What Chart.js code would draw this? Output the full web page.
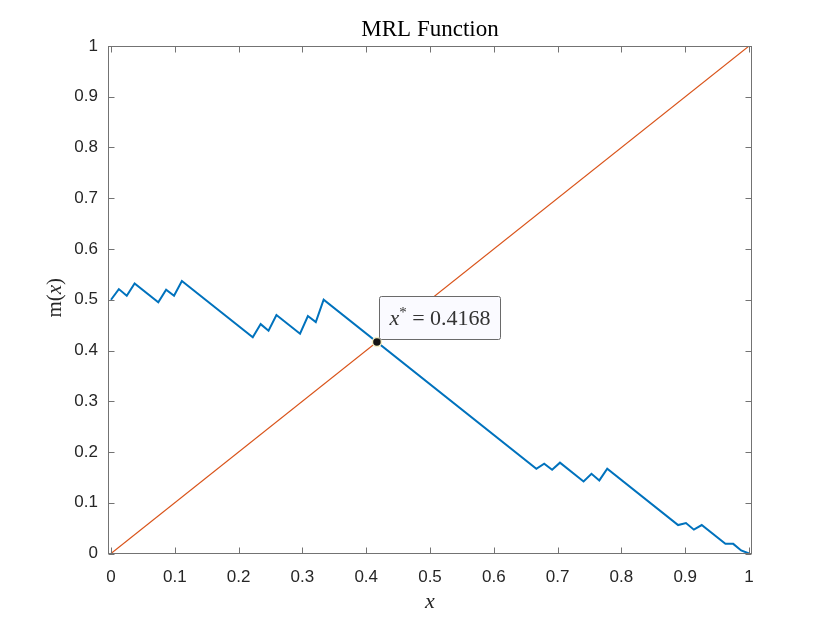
<!DOCTYPE html>
<html>
<head>
<meta charset="utf-8">
<title>MRL Function</title>
<script src="https://cdn.jsdelivr.net/npm/chart.js@4.4.1/dist/chart.umd.min.js"></script>
<style>
  html, body { margin: 0; padding: 0; background: #fff; }
  #wrap { width: 830px; height: 623px; }
</style>
</head>
<body>
<div id="wrap"><canvas id="mrl-chart" width="830" height="623"></canvas></div>
<script>
/* -------------  DATA  ------------- */

// blue curve m(x): corners of the sawtooth
const mrlX = [0, 0.0123, 0.0247, 0.0370, 0.0741, 0.0864, 0.0988, 0.1111,
  0.2222, 0.2346, 0.2469, 0.2593, 0.2963, 0.3086, 0.3210, 0.3333,
  0.6667, 0.6790, 0.6914, 0.7037, 0.7407, 0.7531, 0.7654, 0.7778,
  0.8889, 0.9012, 0.9136, 0.9259, 0.9630, 0.9753, 0.9877, 1];
const mrlY = [0.500, 0.521, 0.508, 0.532, 0.495, 0.520, 0.508, 0.537,
  0.426, 0.452, 0.439, 0.470, 0.433, 0.468, 0.456, 0.500,
  0.167, 0.177, 0.165, 0.179, 0.142, 0.157, 0.144, 0.167,
  0.056, 0.060, 0.047, 0.056, 0.019, 0.019, 0.006, 0];

// orange line y = x
const diagX = [0, 1];
const diagY = [0, 1];

// crossing point shown by the data tip
const crossX = 0.4168;
const crossY = 0.4168;
const crossLabel = '0.4168';

const xTickValues = [0, 0.1, 0.2, 0.3, 0.4, 0.5, 0.6, 0.7, 0.8, 0.9, 1];
const xTickLabels = ['0', '0.1', '0.2', '0.3', '0.4', '0.5', '0.6', '0.7', '0.8', '0.9', '1'];
const yTickValues = [0, 0.1, 0.2, 0.3, 0.4, 0.5, 0.6, 0.7, 0.8, 0.9, 1];
const yTickLabels = ['0', '0.1', '0.2', '0.3', '0.4', '0.5', '0.6', '0.7', '0.8', '0.9', '1'];

const titleText = 'MRL Function';

/* -------------  STYLE  ------------- */

const BLUE = '#0072BD';
const ORANGE = '#D95319';
const AXIS_COLOR = '#737373';
const TEXT_COLOR = '#262626';
const SERIF = '"Liberation Serif", "DejaVu Serif", serif';
const SANS = '"Liberation Sans", Arial, sans-serif';

function toPoints(xs, ys) {
  return xs.map((x, i) => ({ x: x, y: ys[i] }));
}

/**
 * Draws the box with inward ticks, the title, the axis labels and the data tip.
 */
const matlabFrame = {
  id: 'matlabFrame',
  afterDraw(chart) {
    const ctx = chart.ctx;
    const a = chart.chartArea;
    const xs = chart.scales.x;
    const ys = chart.scales.y;
    const L = Math.round(a.left) + 0.5;
    const R = Math.round(a.right) - 0.5;
    const T = Math.round(a.top) + 0.5;
    const B = Math.round(a.bottom) - 0.5;
    const tick = 6;

    ctx.save();
    ctx.strokeStyle = AXIS_COLOR;
    ctx.lineWidth = 1;
    ctx.strokeRect(L, T, R - L, B - T);
    ctx.beginPath();
    xs.ticks.forEach((t) => {
      const px = Math.round(xs.getPixelForValue(t.value)) + 0.5;
      ctx.moveTo(px, B); ctx.lineTo(px, B - tick);
      ctx.moveTo(px, T); ctx.lineTo(px, T + tick);
    });
    ys.ticks.forEach((t) => {
      const py = Math.round(ys.getPixelForValue(t.value)) + 0.5;
      ctx.moveTo(L, py); ctx.lineTo(L + tick, py);
      ctx.moveTo(R, py); ctx.lineTo(R - tick, py);
    });
    ctx.stroke();

    // title
    ctx.fillStyle = '#000';
    ctx.font = '23px ' + SERIF;
    ctx.textAlign = 'center';
    ctx.textBaseline = 'alphabetic';
    ctx.fillText(titleText, (a.left + a.right) / 2, 36);

    // x label
    ctx.fillStyle = TEXT_COLOR;
    ctx.font = 'italic 22px ' + SERIF;
    ctx.fillText('x', (a.left + a.right) / 2, 608);

    // y label m(x), rotated
    ctx.save();
    ctx.translate(61, (a.top + a.bottom) / 2 - 2);
    ctx.rotate(-Math.PI / 2);
    drawRuns(ctx, [
      { text: 'm(', font: '21px ' + SERIF },
      { text: 'x', font: 'italic 21px ' + SERIF },
      { text: ')', font: '21px ' + SERIF },
    ], 0, 0);
    ctx.restore();

    // data tip box
    const mx = xs.getPixelForValue(crossX);
    const my = ys.getPixelForValue(crossY);
    const bx = Math.round(mx) + 2.5;
    const by = Math.round(my) - 45.5;
    const bw = 121;
    const bh = 43;
    ctx.beginPath();
    ctx.roundRect(bx, by, bw, bh, 2);
    ctx.fillStyle = 'rgb(250, 250, 255)';
    ctx.fill();
    ctx.strokeStyle = '#6a6a6a';
    ctx.stroke();
    ctx.fillStyle = '#333';
    drawRuns(ctx, [
      { text: 'x', font: 'italic 22px ' + SERIF },
      { text: '*', font: '15px ' + SERIF, dy: -8 },
      { text: ' = ' + crossLabel, font: '22px ' + SERIF },
    ], bx + bw / 2, by + bh / 2 + 7);
    ctx.restore();
  },
};

/**
 * Writes several runs of text with their own fonts, centred on x.
 */
function drawRuns(ctx, runs, cx, baseline) {
  let total = 0;
  runs.forEach((r) => {
    ctx.font = r.font;
    r.w = ctx.measureText(r.text).width;
    total += r.w;
  });
  let x = cx - total / 2;
  ctx.textAlign = 'left';
  ctx.textBaseline = 'alphabetic';
  runs.forEach((r) => {
    ctx.font = r.font;
    ctx.fillText(r.text, x, baseline + (r.dy || 0));
    x += r.w;
  });
}

function setChartConfig() {
  return {
    type: 'scatter',
    data: {
      datasets: [
        {
          label: 'x*',
          data: [{ x: crossX, y: crossY }],
          pointRadius: 4.5,
          pointBackgroundColor: '#151515',
          pointBorderColor: '#f4efc4',
          pointBorderWidth: 1.5,
          showLine: false,
        },
        {
          label: 'y = x',
          data: toPoints(diagX, diagY),
          showLine: true,
          borderColor: ORANGE,
          borderWidth: 1.1,
          pointRadius: 0,
        },
        {
          label: 'm(x)',
          data: toPoints(mrlX, mrlY),
          showLine: true,
          borderColor: BLUE,
          borderWidth: 2,
          pointRadius: 0,
        },
      ],
    },
    options: {
      responsive: false,
      devicePixelRatio: 1,
      animation: false,
      layout: { padding: { left: 0, top: 46, right: 78, bottom: 0 } },
      plugins: {
        legend: { display: false },
        tooltip: { enabled: false },
        title: { display: false },
      },
      scales: {
        x: {
          type: 'linear',
          min: -0.0047,
          max: 1.0047,
          grid: { display: false },
          border: { display: false },
          afterBuildTicks: (s) => { s.ticks = xTickValues.map((v) => ({ value: v })); },
          afterFit: (s) => { s.height = 69.5; },
          ticks: {
            padding: 6,
            color: TEXT_COLOR,
            font: { family: SANS, size: 17 },
            maxRotation: 0,
            callback: (v, i) => xTickLabels[i],
          },
        },
        y: {
          type: 'linear',
          min: 0,
          max: 1,
          grid: { display: false },
          border: { display: false },
          afterBuildTicks: (s) => { s.ticks = yTickValues.map((v) => ({ value: v })); },
          afterFit: (s) => { s.width = 108; },
          ticks: {
            padding: 2,
            color: TEXT_COLOR,
            font: { family: SANS, size: 17 },
            callback: (v, i) => yTickLabels[i],
          },
        },
      },
    },
    plugins: [matlabFrame],
  };
}

const mrlChart = new Chart(document.getElementById('mrl-chart'), setChartConfig());
</script>
</body>
</html>
